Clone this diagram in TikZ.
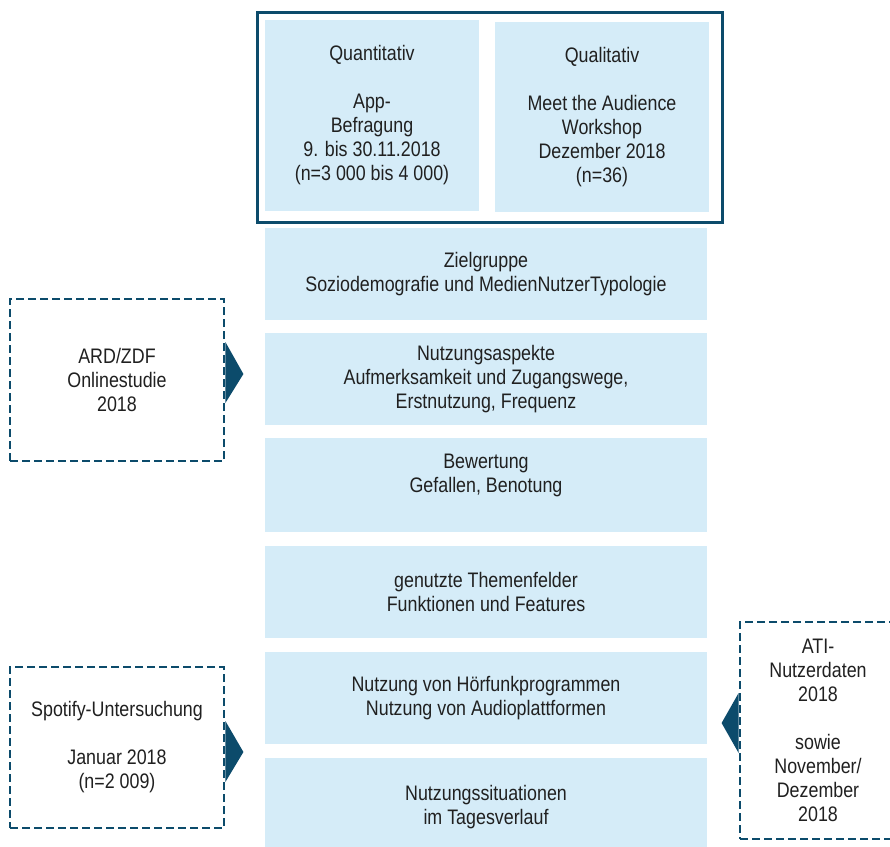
\documentclass[tikz,border=0pt]{standalone}
\usepackage{fontspec}
\setmainfont{Liberation Sans}[FakeStretch=0.85]
\definecolor{lightfill}{HTML}{D5ECF8}
\definecolor{darkteal}{HTML}{0C4B6B}
\definecolor{txt}{HTML}{202020}
\begin{document}
\begin{tikzpicture}[x=1pt,y=-1pt,
  every node/.style={font=\fontsize{21}{24}\selectfont, text=txt, align=center, inner sep=0pt},
  bluebox/.style={fill=lightfill, draw=none, minimum width=442, minimum height=92},
  topbox/.style={fill=lightfill, draw=none, minimum width=214, minimum height=191},
  srcbox/.style={draw=darkteal, line width=2.8, dash pattern=on 8 off 4, fill=white},
  tip/.style={fill=darkteal, draw=none}]
\useasboundingbox (0,0) rectangle (890,846);
\clip (0,0) rectangle (890,846);
% top frame
\node[draw=darkteal, line width=3, minimum width=465, minimum height=210] (frame) at (489.5,117) {};
\node[topbox] (quant) at (372,115.5) {Quantitativ\\[24pt]App-\\Befragung\\9. bis 30.11.2018\\(n=3 000 bis 4 000)};
\node[topbox, minimum height=190] (qual) at (602,117) {Qualitativ\\[24pt]Meet the Audience\\Workshop\\Dezember 2018\\(n=36)};
% middle column
\node[bluebox] (ziel) at (486,274) {Zielgruppe\\Soziodemografie und MedienNutzerTypologie};
\node[bluebox] (aspekte) at (486,379) {Nutzungsaspekte\\Aufmerksamkeit und Zugangswege,\\Erstnutzung, Frequenz};
\node[bluebox, minimum height=94] (bewert) at (486,485) {Bewertung\\Gefallen, Benotung\\\mbox{}};
\node[bluebox] (themen) at (486,592) {genutzte Themenfelder\\Funktionen und Features};
\node[bluebox] (hoer) at (486,698) {Nutzung von Hörfunkprogrammen\\Nutzung von Audioplattformen};
\node[bluebox, minimum height=98] (situ) at (486,807) {Nutzungssituationen\\im Tagesverlauf};
% source boxes
\node[srcbox, minimum width=214, minimum height=162] (ard) at (117,380) {ARD/ZDF\\Onlinestudie\\2018};
\node[srcbox, minimum width=214, minimum height=161] (spot) at (117,747.5) {Spotify-Untersuchung\\[24pt]Januar 2018\\(n=2 009)};
\node[srcbox, minimum width=156, minimum height=217] (ati) at (818,730.5) {ATI-\\Nutzerdaten\\2018\\[24pt]sowie\\November/\\Dezember\\2018};
% arrow tips
\fill[darkteal] (ard.east) ++(0,-38) -- ++(18,32) -- ++(-18,29) -- cycle;
\fill[darkteal] (spot.east) ++(0,-26.5) -- ++(18,31) -- ++(-18,30) -- cycle;
\fill[darkteal] (ati.west) ++(0,-37.5) -- ++(-17,30) -- ++(17,30) -- cycle;
\end{tikzpicture}
\end{document}
